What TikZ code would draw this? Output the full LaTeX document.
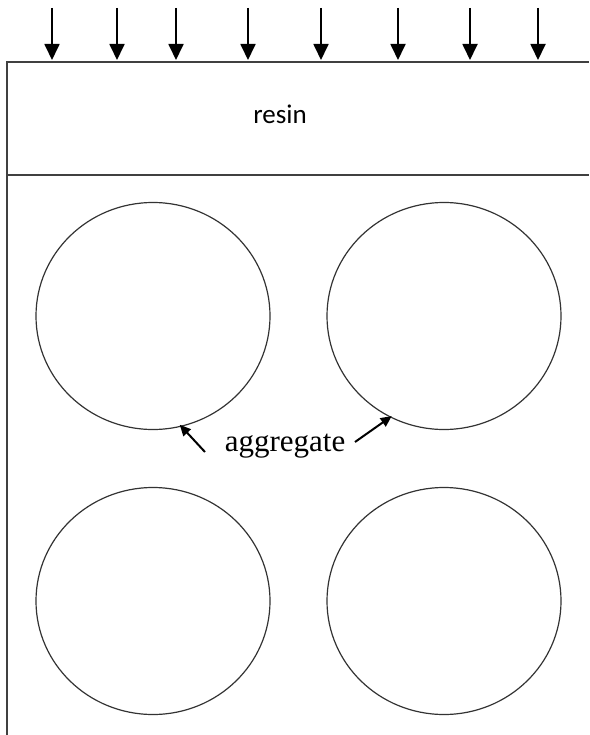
\documentclass[tikz,border=0pt]{standalone}
\usepackage{fontspec}
\setmainfont{Liberation Serif}
\newfontfamily\resinfont{Carlito}
\usetikzlibrary{arrows.meta,shapes.geometric}
\begin{document}
\begin{tikzpicture}[x=1pt,y=-1pt,
  frame/.style={draw=black!75,line width=1.6pt},
  agg/.style={draw=black!80,line width=1.2pt,ellipse,minimum width=234pt,minimum height=227pt,inner sep=0pt},
  load/.style={line width=1.8pt,-{Triangle[length=16pt,width=15pt]}},
  pointer/.style={line width=2pt,-{Triangle[length=11pt,width=10pt]}}]
\useasboundingbox (0,0) rectangle (589,735);
% frame
\coordinate (bl) at (7,735);
\coordinate (tl) at (7,62);
\coordinate (tr) at (589,62);
\coordinate (dl) at (7,175);
\coordinate (dr) at (589,175);
\draw[frame] (bl) -- (tl) -- (tr);
\draw[frame] (dl) -- (dr);
% load arrows
\foreach \i/\x in {1/52,2/117,3/176,4/248,5/321,6/398,7/470,8/538}{
  \coordinate (s\i) at (\x,8);
  \coordinate (e\i) at (\x,60);
  \draw[load] (s\i) -- (e\i);
}
\node[font=\resinfont\fontsize{27}{30}\selectfont] (resin) at (280,114) {resin};
% aggregates
\node[agg] (c1) at (153,316) {};
\node[agg] (c2) at (444,316) {};
\node[agg] (c3) at (153,601) {};
\node[agg] (c4) at (444,601) {};
\node[font=\fontsize{31}{34}\selectfont] (lab) at (285,446) {aggregate};
\coordinate (p1s) at (205,452);
\coordinate (p2s) at (355,442);
\draw[pointer] (p1s) -- ([shift={(3pt,3pt)}]c1.-78);
\draw[pointer] (p2s) -- ([shift={(-2pt,3pt)}]c2.-116);
\end{tikzpicture}
\end{document}
